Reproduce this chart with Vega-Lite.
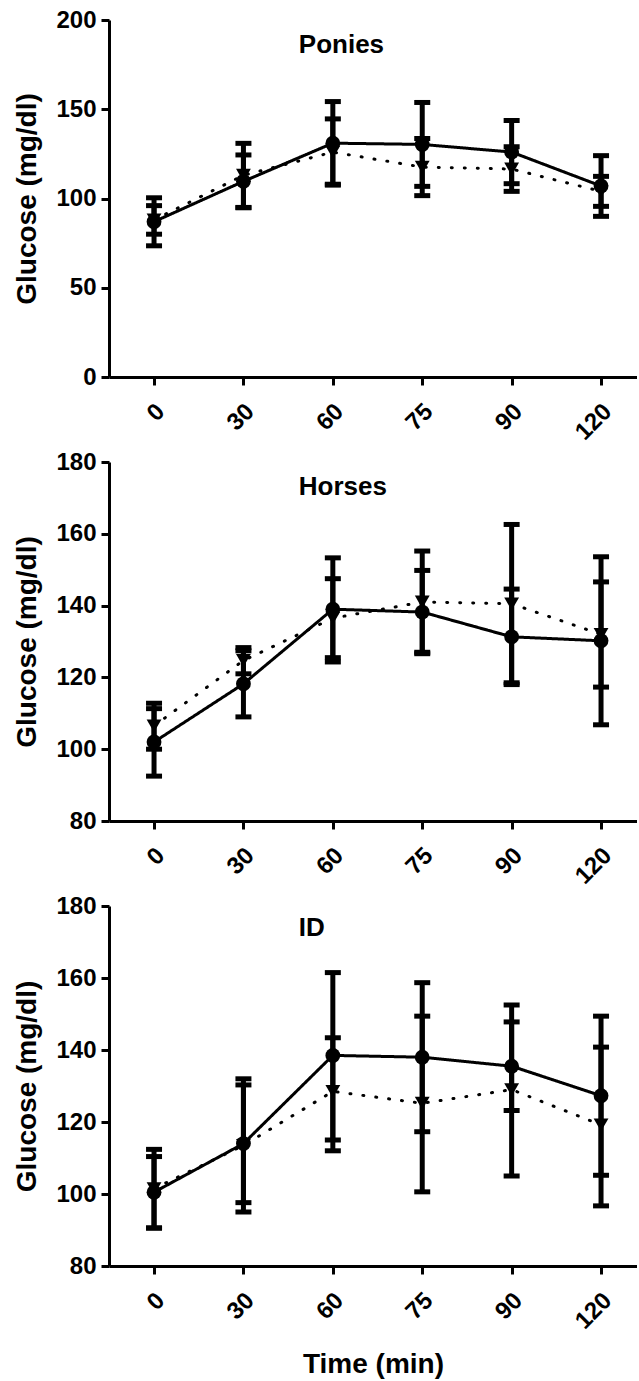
{
  "$schema": "https://vega.github.io/schema/vega-lite/v6.json",
  "padding": {"left": 13, "top": 8, "right": 0, "bottom": 0},
  "background": "white",
  "config": {
    "font": "Liberation Sans",
    "view": {"stroke": null},
    "axis": {
      "grid": false, "domainColor": "black", "domainWidth": 3, "tickColor": "black", "tickWidth": 3, "tickSize": 8,
      "labelFont": "Liberation Sans", "labelFontWeight": "bold", "labelFontSize": 24, "labelColor": "black",
      "titleFont": "Liberation Sans", "titleFontWeight": "bold", "titleFontSize": 28, "titleColor": "black"
    },
    "axisY": {"labelPadding": 5, "titlePadding": 14},
    "axisX": {"labelPadding": 14, "labelOffset": -2, "labelAngle": -45}
  },
  "datasets": {
    "glu": [
      {"panel": "Ponies", "time": 0, "group": "A", "mean": 87, "lo": 73.5, "hi": 100.4},
      {"panel": "Ponies", "time": 0, "group": "B", "mean": 88, "lo": 80, "hi": 96},
      {"panel": "Ponies", "time": 30, "group": "A", "mean": 109.6, "lo": 94.8, "hi": 124.4},
      {"panel": "Ponies", "time": 30, "group": "B", "mean": 113, "lo": 95, "hi": 130.9},
      {"panel": "Ponies", "time": 60, "group": "A", "mean": 131, "lo": 108, "hi": 154.3},
      {"panel": "Ponies", "time": 60, "group": "B", "mean": 126, "lo": 107.5, "hi": 144.6},
      {"panel": "Ponies", "time": 75, "group": "A", "mean": 130.3, "lo": 106.8, "hi": 153.8},
      {"panel": "Ponies", "time": 75, "group": "B", "mean": 117.6, "lo": 101.6, "hi": 133.6},
      {"panel": "Ponies", "time": 90, "group": "A", "mean": 126, "lo": 108.3, "hi": 143.7},
      {"panel": "Ponies", "time": 90, "group": "B", "mean": 116.5, "lo": 104, "hi": 129},
      {"panel": "Ponies", "time": 120, "group": "A", "mean": 107, "lo": 90, "hi": 124},
      {"panel": "Ponies", "time": 120, "group": "B", "mean": 104, "lo": 95.6, "hi": 112.4},
      {"panel": "Horses", "time": 0, "group": "A", "mean": 102, "lo": 92.5, "hi": 111.3},
      {"panel": "Horses", "time": 0, "group": "B", "mean": 106.5, "lo": 100, "hi": 112.8},
      {"panel": "Horses", "time": 30, "group": "A", "mean": 118.2, "lo": 109, "hi": 127.4},
      {"panel": "Horses", "time": 30, "group": "B", "mean": 124.7, "lo": 121, "hi": 128.3},
      {"panel": "Horses", "time": 60, "group": "A", "mean": 139, "lo": 124.3, "hi": 153.3},
      {"panel": "Horses", "time": 60, "group": "B", "mean": 136.5, "lo": 125.5, "hi": 147.5},
      {"panel": "Horses", "time": 75, "group": "A", "mean": 138.2, "lo": 126.6, "hi": 149.8},
      {"panel": "Horses", "time": 75, "group": "B", "mean": 141, "lo": 127, "hi": 155.2},
      {"panel": "Horses", "time": 90, "group": "A", "mean": 131.3, "lo": 118, "hi": 144.6},
      {"panel": "Horses", "time": 90, "group": "B", "mean": 140.5, "lo": 118.5, "hi": 162.6},
      {"panel": "Horses", "time": 120, "group": "A", "mean": 130.2, "lo": 106.8, "hi": 153.6},
      {"panel": "Horses", "time": 120, "group": "B", "mean": 132, "lo": 117.3, "hi": 146.6},
      {"panel": "ID", "time": 0, "group": "A", "mean": 100.5, "lo": 90.5, "hi": 110.4},
      {"panel": "ID", "time": 0, "group": "B", "mean": 101.5, "lo": 90.6, "hi": 112.4},
      {"panel": "ID", "time": 30, "group": "A", "mean": 114, "lo": 97.6, "hi": 130.3},
      {"panel": "ID", "time": 30, "group": "B", "mean": 113.5, "lo": 95, "hi": 132},
      {"panel": "ID", "time": 60, "group": "A", "mean": 138.5, "lo": 115, "hi": 161.5},
      {"panel": "ID", "time": 60, "group": "B", "mean": 128.5, "lo": 112, "hi": 143.4},
      {"panel": "ID", "time": 75, "group": "A", "mean": 138, "lo": 117.3, "hi": 158.7},
      {"panel": "ID", "time": 75, "group": "B", "mean": 125.2, "lo": 100.6, "hi": 149.4},
      {"panel": "ID", "time": 90, "group": "A", "mean": 135.5, "lo": 123.2, "hi": 147.8},
      {"panel": "ID", "time": 90, "group": "B", "mean": 129, "lo": 105, "hi": 152.5},
      {"panel": "ID", "time": 120, "group": "A", "mean": 127.3, "lo": 105.2, "hi": 149.4},
      {"panel": "ID", "time": 120, "group": "B", "mean": 119.2, "lo": 96.7, "hi": 140.8}
    ]
  },
  "bounds": "flush",
  "spacing": 85,
  "vconcat": [
    {
      "width": 528, "height": 357,
      "encoding": {"x": {"field": "time", "type": "ordinal", "scale": {"type": "point", "padding": 0.453, "align": 0.556}, "axis": {"title": null}}},
      "layer": [
        {
          "data": {"name": "glu"}, "transform": [{"filter": "datum.panel === 'Ponies'"}],
          "mark": {"type": "errorbar", "color": "black", "opacity": 1, "thickness": 5, "rule": {"opacity": 1, "strokeWidth": 5}, "ticks": {"size": 16, "thickness": 5, "color": "black", "opacity": 1}},
          "encoding": {
            "y": {"field": "lo", "type": "quantitative", "scale": {"domain": [0, 200], "nice": false}, "axis": {"values": [0, 50, 100, 150, 200], "title": "Glucose (mg/dl)"}},
            "y2": {"field": "hi"}, "detail": {"field": "group"}
          }
        },
        {
          "data": {"name": "glu"}, "transform": [{"filter": "datum.panel === 'Ponies'"}],
          "mark": {"type": "line", "color": "black", "strokeWidth": 3, "strokeCap": "round"},
          "encoding": {
            "y": {"field": "mean", "type": "quantitative", "axis": {"values": [0, 50, 100, 150, 200], "title": "Glucose (mg/dl)"}},
            "strokeDash": {"field": "group", "type": "nominal", "scale": {"domain": ["A", "B"], "range": [[1, 0], [1, 12]]}, "legend": null}
          }
        },
        {
          "data": {"name": "glu"}, "transform": [{"filter": "datum.panel === 'Ponies'"}],
          "mark": {"type": "point", "filled": true, "color": "black", "opacity": 1, "size": 220},
          "encoding": {
            "y": {"field": "mean", "type": "quantitative", "axis": {"values": [0, 50, 100, 150, 200], "title": "Glucose (mg/dl)"}},
            "shape": {"field": "group", "type": "nominal", "scale": {"domain": ["A", "B"], "range": ["circle", "triangle-down"]}, "legend": null}
          }
        },
        {
          "data": {"values": [{"label": "Ponies"}]},
          "mark": {"type": "text", "fontSize": 26, "fontWeight": "bold", "align": "left", "baseline": "middle", "dx": -34, "color": "black"},
          "encoding": {"x": {"datum": 60}, "y": {"datum": 186}, "text": {"field": "label"}}
        }
      ]
    },
    {
      "width": 528, "height": 359,
      "encoding": {"x": {"field": "time", "type": "ordinal", "scale": {"type": "point", "padding": 0.453, "align": 0.556}, "axis": {"title": null}}},
      "layer": [
        {
          "data": {"name": "glu"}, "transform": [{"filter": "datum.panel === 'Horses'"}],
          "mark": {"type": "errorbar", "color": "black", "opacity": 1, "thickness": 5, "rule": {"opacity": 1, "strokeWidth": 5}, "ticks": {"size": 16, "thickness": 5, "color": "black", "opacity": 1}},
          "encoding": {
            "y": {"field": "lo", "type": "quantitative", "scale": {"domain": [80, 180], "nice": false}, "axis": {"values": [80, 100, 120, 140, 160, 180], "title": "Glucose (mg/dl)"}},
            "y2": {"field": "hi"}, "detail": {"field": "group"}
          }
        },
        {
          "data": {"name": "glu"}, "transform": [{"filter": "datum.panel === 'Horses'"}],
          "mark": {"type": "line", "color": "black", "strokeWidth": 3, "strokeCap": "round"},
          "encoding": {
            "y": {"field": "mean", "type": "quantitative", "axis": {"values": [80, 100, 120, 140, 160, 180], "title": "Glucose (mg/dl)"}},
            "strokeDash": {"field": "group", "type": "nominal", "scale": {"domain": ["A", "B"], "range": [[1, 0], [1, 12]]}, "legend": null}
          }
        },
        {
          "data": {"name": "glu"}, "transform": [{"filter": "datum.panel === 'Horses'"}],
          "mark": {"type": "point", "filled": true, "color": "black", "opacity": 1, "size": 220},
          "encoding": {
            "y": {"field": "mean", "type": "quantitative", "axis": {"values": [80, 100, 120, 140, 160, 180], "title": "Glucose (mg/dl)"}},
            "shape": {"field": "group", "type": "nominal", "scale": {"domain": ["A", "B"], "range": ["circle", "triangle-down"]}, "legend": null}
          }
        },
        {
          "data": {"values": [{"label": "Horses"}]},
          "mark": {"type": "text", "fontSize": 26, "fontWeight": "bold", "align": "left", "baseline": "middle", "dx": -34, "color": "black"},
          "encoding": {"x": {"datum": 60}, "y": {"datum": 173}, "text": {"field": "label"}}
        }
      ]
    },
    {
      "width": 528, "height": 360,
      "encoding": {"x": {"field": "time", "type": "ordinal", "scale": {"type": "point", "padding": 0.453, "align": 0.556}, "axis": {"title": "Time (min)", "titlePadding": 17}}},
      "layer": [
        {
          "data": {"name": "glu"}, "transform": [{"filter": "datum.panel === 'ID'"}],
          "mark": {"type": "errorbar", "color": "black", "opacity": 1, "thickness": 5, "rule": {"opacity": 1, "strokeWidth": 5}, "ticks": {"size": 16, "thickness": 5, "color": "black", "opacity": 1}},
          "encoding": {
            "y": {"field": "lo", "type": "quantitative", "scale": {"domain": [80, 180], "nice": false}, "axis": {"values": [80, 100, 120, 140, 160, 180], "title": "Glucose (mg/dl)"}},
            "y2": {"field": "hi"}, "detail": {"field": "group"}
          }
        },
        {
          "data": {"name": "glu"}, "transform": [{"filter": "datum.panel === 'ID'"}],
          "mark": {"type": "line", "color": "black", "strokeWidth": 3, "strokeCap": "round"},
          "encoding": {
            "y": {"field": "mean", "type": "quantitative", "axis": {"values": [80, 100, 120, 140, 160, 180], "title": "Glucose (mg/dl)"}},
            "strokeDash": {"field": "group", "type": "nominal", "scale": {"domain": ["A", "B"], "range": [[1, 0], [1, 12]]}, "legend": null}
          }
        },
        {
          "data": {"name": "glu"}, "transform": [{"filter": "datum.panel === 'ID'"}],
          "mark": {"type": "point", "filled": true, "color": "black", "opacity": 1, "size": 220},
          "encoding": {
            "y": {"field": "mean", "type": "quantitative", "axis": {"values": [80, 100, 120, 140, 160, 180], "title": "Glucose (mg/dl)"}},
            "shape": {"field": "group", "type": "nominal", "scale": {"domain": ["A", "B"], "range": ["circle", "triangle-down"]}, "legend": null}
          }
        },
        {
          "data": {"values": [{"label": "ID"}]},
          "mark": {"type": "text", "fontSize": 26, "fontWeight": "bold", "align": "left", "baseline": "middle", "dx": -34, "color": "black"},
          "encoding": {"x": {"datum": 60}, "y": {"datum": 174}, "text": {"field": "label"}}
        }
      ]
    }
  ]
}
